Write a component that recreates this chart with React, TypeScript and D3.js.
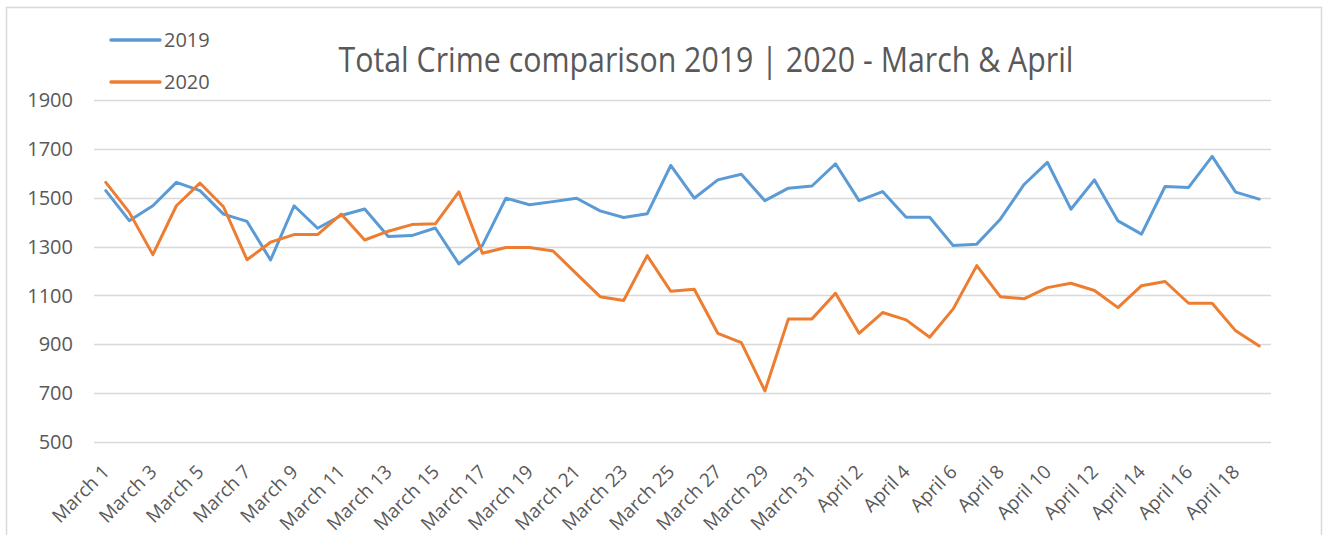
import React, { useEffect, useRef } from "react";
import * as d3 from "d3";

const days: string[] = [
  ...d3.range(1, 32).map((d) => `March ${d}`),
  ...d3.range(1, 20).map((d) => `April ${d}`),
];

const series2019: number[] = [
  1529, 1406, 1467, 1563, 1529, 1433, 1403, 1245, 1467, 1375,
  1427, 1454, 1341, 1345, 1376, 1229, 1305, 1498, 1471, 1484,
  1498, 1446, 1419, 1434, 1632, 1498, 1573, 1596, 1488, 1539,
  1548, 1639, 1488, 1525, 1420, 1420, 1304, 1310, 1412, 1553,
  1645, 1453, 1573, 1405, 1351, 1546, 1542, 1669, 1523, 1494,
];

const series2020: number[] = [
  1563, 1440, 1267, 1467, 1560, 1463, 1246, 1318, 1349, 1349,
  1433, 1327, 1363, 1390, 1393, 1524, 1273, 1296, 1296, 1282,
  1188, 1095, 1079, 1263, 1117, 1125, 945, 907, 709, 1004,
  1004, 1109, 945, 1030, 1000, 929, 1045, 1222, 1095, 1086,
  1132, 1150, 1120, 1050, 1140, 1157, 1068, 1068, 955, 893,
];

const yTicks: number[] = [500, 700, 900, 1100, 1300, 1500, 1700, 1900];

const seriesNames = ["2019", "2020"];
const colors = ["#5B9BD5", "#ED7D31"];
const title = "Total Crime comparison 2019 | 2020 - March & April";

const W = 1323;
const H = 535;
const FONT = "'Open Sans', sans-serif";
const TEXT = "#595959";

export default function App() {
  const ref = useRef<SVGSVGElement>(null);

  useEffect(() => {
    const svg = d3.select(ref.current);
    svg.selectAll("*").remove();

    const left = 94, right = 1271, top = 100, bottom = 442;

    const x = d3.scaleBand<string>().domain(days).range([left, right]);
    const y = d3.scaleLinear().domain([500, 1900]).range([bottom, top]);
    const cx = (d: string) => (x(d) as number) + x.bandwidth() / 2;

    // chart border
    svg.append("rect")
      .attr("x", 6.5).attr("y", 7.5)
      .attr("width", 1315).attr("height", 540)
      .attr("fill", "#fff").attr("stroke", "#D9D9D9").attr("stroke-width", 1.5);

    // gridlines
    svg.append("g").selectAll("line").data(yTicks).join("line")
      .attr("x1", left).attr("x2", right)
      .attr("y1", (d) => Math.round(y(d)) + 0.5).attr("y2", (d) => Math.round(y(d)) + 0.5)
      .attr("stroke", "#D9D9D9").attr("stroke-width", 1.5);

    // y labels
    svg.append("g").selectAll("text").data(yTicks).join("text")
      .attr("x", 73).attr("y", (d) => y(d))
      .attr("dy", "0.36em")
      .attr("text-anchor", "end")
      .attr("font-family", FONT).attr("font-size", 20)
      .attr("fill", TEXT)
      .text((d) => String(d));

    // x labels (every other)
    const labelDays = days.filter((_, i) => i % 2 === 0);
    svg.append("g").selectAll("text").data(labelDays).join("text")
      .attr("transform", (d) => `translate(${cx(d) + 5},${bottom + 31}) rotate(-45)`)
      .attr("text-anchor", "end")
      .attr("font-family", FONT).attr("font-size", 19)
      .attr("fill", TEXT)
      .text((d) => d);

    // lines
    const line = d3.line<number>()
      .x((_, i) => cx(days[i]))
      .y((v) => y(v))
      .curve(d3.curveLinear);

    [series2019, series2020].forEach((s, k) => {
      svg.append("path")
        .datum(s)
        .attr("d", line)
        .attr("fill", "none")
        .attr("stroke", colors[k])
        .attr("stroke-width", 3)
        .attr("stroke-linejoin", "round")
        .attr("stroke-linecap", "round");
    });

    // title
    svg.append("text")
      .attr("x", 706).attr("y", 72)
      .attr("text-anchor", "middle")
      .attr("font-family", FONT).attr("font-size", 34)
      .attr("textLength", 735)
      .attr("lengthAdjust", "spacingAndGlyphs")
      .attr("fill", TEXT)
      .text(title);

    // legend
    const lg = svg.append("g");
    seriesNames.forEach((name, k) => {
      const ly = 40 + k * 42;
      lg.append("line")
        .attr("x1", 111).attr("x2", 160)
        .attr("y1", ly).attr("y2", ly)
        .attr("stroke", colors[k]).attr("stroke-width", 3.5)
        .attr("stroke-linecap", "round");
      lg.append("text")
        .attr("x", 164).attr("y", ly)
        .attr("dy", "0.36em")
        .attr("font-family", FONT).attr("font-size", 20)
        .attr("fill", TEXT)
        .text(name);
    });
  }, []);

  return (
    <svg
      ref={ref}
      width={W}
      height={H}
      style={{ position: "absolute", left: 0, top: 0, background: "#fff" }}
    />
  );
}
